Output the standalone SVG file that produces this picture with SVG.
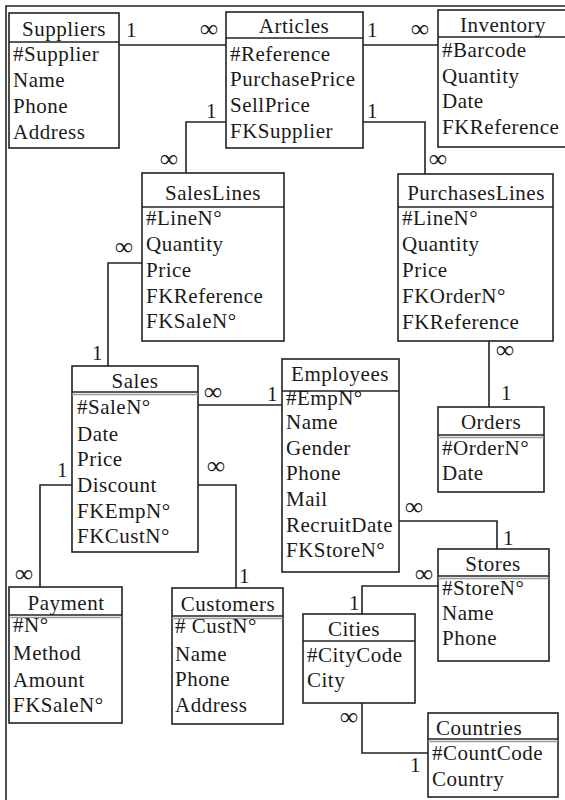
<svg xmlns="http://www.w3.org/2000/svg" width="565" height="800" viewBox="0 0 565 800">
<style>
.box{fill:#fff;stroke:#222;stroke-width:1.6}
.hl{stroke:#222;stroke-width:1.6}
.hl2{stroke:#999;stroke-width:1.4}
.t{font-family:"Liberation Serif","Times New Roman",serif;font-size:21px;fill:#1a1a1a;letter-spacing:0.5px}
.c{text-anchor:middle}
.con{fill:none;stroke:#222;stroke-width:1.6}
.inf{font-family:"Liberation Serif","Times New Roman",serif;font-size:25px;font-weight:bold;fill:#1a1a1a}
.one{font-family:"Liberation Serif","Times New Roman",serif;font-size:21px;fill:#1a1a1a}
</style>
<rect x="0" y="0" width="565" height="800" fill="#fff"/>
<path d="M6,800 V6 H565" fill="none" stroke="#222" stroke-width="1.6"/>
<g id="connectors">
<path class="con" d="M119,45 H226"/>
<path class="con" d="M363,45 H438"/>
<path class="con" d="M226,122 H186 V173"/>
<path class="con" d="M363,122 H425 V174"/>
<path class="con" d="M142,263 H108 V366"/>
<path class="con" d="M489,341 V407"/>
<path class="con" d="M198,405 H282"/>
<path class="con" d="M72,485 H40 V587"/>
<path class="con" d="M198,485 H236 V588"/>
<path class="con" d="M399,521 H497 V549"/>
<path class="con" d="M438,586 H362 V614"/>
<path class="con" d="M362,703 V753 H428"/>
<text class="one" x="126" y="37">1</text>
<text class="inf" x="200" y="37">∞</text>
<text class="one" x="367" y="37">1</text>
<text class="inf" x="411" y="37">∞</text>
<text class="one" x="206" y="118">1</text>
<text class="inf" x="160" y="167">∞</text>
<text class="one" x="367" y="118">1</text>
<text class="inf" x="429" y="167">∞</text>
<text class="inf" x="115" y="255">∞</text>
<text class="one" x="92" y="360">1</text>
<text class="inf" x="496" y="358">∞</text>
<text class="one" x="501" y="400">1</text>
<text class="inf" x="204" y="400">∞</text>
<text class="one" x="267" y="401">1</text>
<text class="one" x="57" y="477">1</text>
<text class="inf" x="15" y="582">∞</text>
<text class="inf" x="207" y="474">∞</text>
<text class="one" x="239" y="583">1</text>
<text class="inf" x="405" y="515">∞</text>
<text class="one" x="503" y="545">1</text>
<text class="inf" x="415" y="582">∞</text>
<text class="one" x="349" y="610">1</text>
<text class="inf" x="340" y="725">∞</text>
<text class="one" x="410" y="772">1</text>
</g>
<g id="Suppliers">
<rect class="box" x="9" y="13" width="110" height="135"/>
<line class="hl" x1="9" y1="42" x2="119" y2="42"/>
<text class="t c" x="64" y="36">Suppliers</text>
<text class="t" x="13" y="61">#Supplier</text>
<text class="t" x="13" y="87">Name</text>
<text class="t" x="13" y="113">Phone</text>
<text class="t" x="13" y="139">Address</text>
</g>
<g id="Articles">
<rect class="box" x="226" y="12" width="137" height="136"/>
<line class="hl" x1="226" y1="38" x2="363" y2="38"/>
<text class="t c" x="294" y="33">Articles</text>
<text class="t" x="230" y="61">#Reference</text>
<text class="t" x="230" y="86">PurchasePrice</text>
<text class="t" x="230" y="112">SellPrice</text>
<text class="t" x="230" y="138">FKSupplier</text>
</g>
<g id="Inventory">
<rect class="box" x="438" y="10" width="140" height="137"/>
<line class="hl" x1="438" y1="37" x2="578" y2="37"/>
<text class="t c" x="503" y="32">Inventory</text>
<text class="t" x="442" y="57">#Barcode</text>
<text class="t" x="442" y="83">Quantity</text>
<text class="t" x="442" y="108">Date</text>
<text class="t" x="442" y="134">FKReference</text>
</g>
<g id="SalesLines">
<rect class="box" x="142" y="173" width="142" height="168"/>
<line class="hl" x1="142" y1="207" x2="284" y2="207"/>
<text class="t c" x="213" y="200">SalesLines</text>
<text class="t" x="146" y="225">#LineN°</text>
<text class="t" x="146" y="251">Quantity</text>
<text class="t" x="146" y="277">Price</text>
<text class="t" x="146" y="303">FKReference</text>
<text class="t" x="146" y="328">FKSaleN°</text>
</g>
<g id="PurchasesLines">
<rect class="box" x="398" y="174" width="155" height="167"/>
<line class="hl" x1="398" y1="207" x2="553" y2="207"/>
<text class="t c" x="476" y="200">PurchasesLines</text>
<text class="t" x="402" y="225">#LineN°</text>
<text class="t" x="402" y="251">Quantity</text>
<text class="t" x="402" y="277">Price</text>
<text class="t" x="402" y="303">FKOrderN°</text>
<text class="t" x="402" y="329">FKReference</text>
</g>
<g id="Sales">
<rect class="box" x="72" y="366" width="126" height="186"/>
<line class="hl" x1="72" y1="392" x2="198" y2="392"/>
<line class="hl2" x1="72" y1="394.5" x2="198" y2="394.5"/>
<text class="t c" x="135" y="388">Sales</text>
<text class="t" x="77" y="414">#SaleN°</text>
<text class="t" x="77" y="441">Date</text>
<text class="t" x="77" y="466">Price</text>
<text class="t" x="77" y="492">Discount</text>
<text class="t" x="77" y="518">FKEmpN°</text>
<text class="t" x="77" y="543">FKCustN°</text>
</g>
<g id="Employees">
<rect class="box" x="282" y="359" width="117" height="213"/>
<line class="hl" x1="282" y1="391" x2="399" y2="391"/>
<text class="t c" x="340" y="381">Employees</text>
<text class="t" x="286" y="404.5">#EmpN°</text>
<text class="t" x="286" y="429">Name</text>
<text class="t" x="286" y="455">Gender</text>
<text class="t" x="286" y="480">Phone</text>
<text class="t" x="286" y="506">Mail</text>
<text class="t" x="286" y="532">RecruitDate</text>
<text class="t" x="286" y="557">FKStoreN°</text>
</g>
<g id="Orders">
<rect class="box" x="438" y="407" width="106" height="85"/>
<line class="hl" x1="438" y1="435" x2="544" y2="435"/>
<line class="hl2" x1="438" y1="437.5" x2="544" y2="437.5"/>
<text class="t c" x="491" y="429">Orders</text>
<text class="t" x="442" y="455">#OrderN°</text>
<text class="t" x="442" y="480">Date</text>
</g>
<g id="Payment">
<rect class="box" x="9" y="587" width="113" height="136"/>
<line class="hl" x1="9" y1="615" x2="122" y2="615"/>
<line class="hl2" x1="9" y1="617.5" x2="122" y2="617.5"/>
<text class="t c" x="66" y="610">Payment</text>
<text class="t" x="13" y="632">#N°</text>
<text class="t" x="13" y="660">Method</text>
<text class="t" x="13" y="687">Amount</text>
<text class="t" x="13" y="712">FKSaleN°</text>
</g>
<g id="Customers">
<rect class="box" x="172" y="588" width="111" height="136"/>
<line class="hl" x1="172" y1="616" x2="283" y2="616"/>
<line class="hl2" x1="172" y1="618.5" x2="283" y2="618.5"/>
<text class="t c" x="228" y="611">Customers</text>
<text class="t" x="175" y="633"># CustN°</text>
<text class="t" x="175" y="661">Name</text>
<text class="t" x="175" y="686">Phone</text>
<text class="t" x="175" y="712">Address</text>
</g>
<g id="Stores">
<rect class="box" x="438" y="549" width="111" height="112"/>
<line class="hl" x1="438" y1="576" x2="549" y2="576"/>
<line class="hl2" x1="438" y1="578.5" x2="549" y2="578.5"/>
<text class="t c" x="493" y="571">Stores</text>
<text class="t" x="442" y="595">#StoreN°</text>
<text class="t" x="442" y="620">Name</text>
<text class="t" x="442" y="645">Phone</text>
</g>
<g id="Cities">
<rect class="box" x="303" y="614" width="112" height="89"/>
<line class="hl" x1="303" y1="641" x2="415" y2="641"/>
<text class="t c" x="354" y="636">Cities</text>
<text class="t" x="307" y="662">#CityCode</text>
<text class="t" x="307" y="687">City</text>
</g>
<g id="Countries">
<rect class="box" x="428" y="713" width="130" height="84"/>
<line class="hl" x1="428" y1="739" x2="558" y2="739"/>
<line class="hl2" x1="428" y1="741.5" x2="558" y2="741.5"/>
<text class="t c" x="479" y="735">Countries</text>
<text class="t" x="432" y="760">#CountCode</text>
<text class="t" x="432" y="786">Country</text>
</g>
</svg>
